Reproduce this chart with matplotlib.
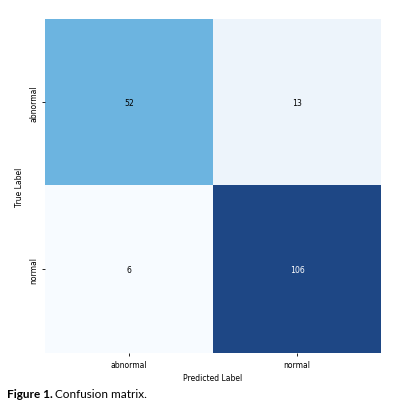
import numpy as np
import matplotlib
matplotlib.use("Agg")
import matplotlib.pyplot as plt
from matplotlib.colors import LinearSegmentedColormap

labels = ["abnormal", "normal"]
counts = np.array([[52, 13],
                   [6, 106]])

# Blues-like ramp, a bit brighter in the middle and washed out at the dark end like the scan
cmap = LinearSegmentedColormap.from_list(
    "blues_scan",
    [(0.0, "#f7fbff"), (0.1, "#e8f1fa"), (0.46, "#6cb4e0"), (1.0, "#1e4785")],
)

fig = plt.figure(figsize=(3.96, 4.14), dpi=100)
ax = fig.add_axes([0.114, 0.145, 0.848, 0.807])

ax.imshow(counts, cmap=cmap, aspect="auto", vmin=counts.min(), vmax=counts.max())
for i in range(counts.shape[0]):
    for j in range(counts.shape[1]):
        v = counts[i, j]
        c = "white" if v > counts.max() / 2 else "black"
        ax.text(j, i, str(v), ha="center", va="center", fontsize=5.6, color=c)

fs = 5.5
ax.set_xticks(range(len(labels)))
ax.set_xticklabels(labels, fontsize=fs)
ax.set_yticks(range(len(labels)))
ax.set_yticklabels(labels, fontsize=fs, rotation=90, va="center")
ax.tick_params(length=2, width=0.6, pad=3)
ax.set_xlabel("Predicted Label", fontsize=fs, labelpad=3)
ax.set_ylabel("True Label", fontsize=fs, labelpad=4)
for s in ax.spines.values():
    s.set_visible(False)

fig.text(0.018, 0.046, "Figure 1.", fontsize=8.5, fontweight="bold", family="Lato", va="center")
fig.text(0.139, 0.046, "Confusion matrix.", fontsize=8.5, family="Lato", va="center")

fig.savefig("out.png", dpi=100)
